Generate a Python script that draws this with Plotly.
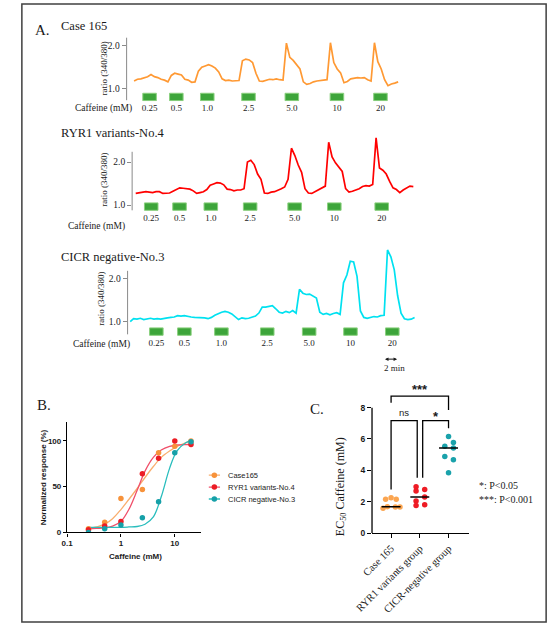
import numpy as np
import plotly.graph_objects as go

W, H = 550, 631
SERIF = "Liberation Serif"
SANS = "Liberation Sans"

# ---------------- data ----------------
# A: fura-2 ratio (340/380), one sample every 0.5 min
dt_min = 0.5
case165_ratio = [
    1.17, 1.21, 1.22, 1.25, 1.27, 1.32, 1.27, 1.25, 1.21, 1.19,
    1.15, 1.30, 1.35, 1.33, 1.31, 1.21, 1.19, 1.14, 1.15, 1.40,
    1.49, 1.52, 1.55, 1.52, 1.47, 1.38, 1.22, 1.18, 1.19, 1.17,
    1.18, 1.18, 1.64, 1.68, 1.66, 1.60, 1.35, 1.17, 1.16, 1.18,
    1.21, 1.20, 1.22, 1.20, 1.19, 2.05, 1.72, 1.65, 1.55, 1.45,
    1.15, 1.09, 1.11, 1.15, 1.17, 1.18, 1.19, 1.20, 2.06, 1.60,
    1.45, 1.36, 1.13, 1.16, 1.22, 1.24, 1.25, 1.24, 1.25, 1.20,
    1.17, 2.06, 1.62, 1.45, 1.20, 1.06, 1.10, 1.12, 1.15]
ryr1_ratio = [
    1.27, 1.28, 1.29, 1.31, 1.30, 1.29, 1.31, 1.31, 1.27, 1.27,
    1.28, 1.32, 1.37, 1.40, 1.39, 1.38, 1.37, 1.33, 1.27, 1.29,
    1.31, 1.36, 1.46, 1.49, 1.52, 1.51, 1.47, 1.37, 1.36, 1.33,
    1.35, 1.35, 1.38, 2.00, 2.04, 1.94, 1.72, 1.60, 1.28, 1.27,
    1.30, 1.31, 1.34, 1.38, 1.42, 1.60, 2.32, 2.15, 1.93, 1.76,
    1.38, 1.28, 1.27, 1.31, 1.36, 1.40, 1.44, 2.46, 2.12, 1.98,
    1.88, 1.78, 1.38, 1.30, 1.32, 1.35, 1.38, 1.43, 1.45, 1.44,
    1.48, 2.56, 1.86, 1.81, 1.72, 1.55, 1.40, 1.36, 1.29, 1.35,
    1.40, 1.44, 1.43]
cicr_ratio = [
    1.00, 1.07, 1.06, 1.08, 1.05, 1.07, 1.08, 1.06, 1.07, 1.06,
    1.08, 1.09, 1.10, 1.11, 1.14, 1.13, 1.14, 1.12, 1.11, 1.10,
    1.10, 1.09, 1.09, 1.07, 1.10, 1.15, 1.19, 1.22, 1.24, 1.22,
    1.18, 1.12, 1.05, 1.09, 1.07, 1.08, 1.10, 1.13, 1.20, 1.34,
    1.34, 1.36, 1.37, 1.30, 1.22, 1.20, 1.24, 1.21, 1.26, 1.20,
    1.75, 1.66, 1.63, 1.64, 1.60, 1.55, 1.22, 1.17, 1.19, 1.16,
    1.19, 1.21, 1.17, 1.90, 2.08, 2.40, 2.38, 2.05, 1.25, 1.10,
    1.08, 1.10, 1.12, 1.11, 1.14, 1.15, 2.66, 2.50, 2.20, 1.60,
    1.20, 1.07, 1.05, 1.06, 1.10]

caffeine_labels = ["0.25", "0.5", "1.0", "2.5", "5.0", "10", "20"]
stim_len_min = 2.0
case165_stim_start = [1.29, 5.24, 9.81, 15.9, 22.3, 28.96, 35.39]
ryr1_stim_start = [1.29, 5.47, 10.09, 15.9, 22.47, 28.33, 35.33]
cicr_stim_start = [2.86, 7.0, 12.47, 19.24, 25.43, 31.53, 37.71]

# B: dose-response
caffeine_mM = [0.25, 0.5, 1, 2.5, 5, 10, 20]
resp_case165 = [4, 11, 37, 47, 87, 94, 100]
resp_ryr1 = [3, 7, 12, 64, 81, 100, 96]
resp_cicr = [0, 4, 8, 16, 33.5, 87, 99]
fit_mM = [0.25, 0.35, 0.5, 0.7, 1, 1.4, 2, 2.8, 4, 5.6, 8, 11, 16, 20]
fit_case165 = [4, 6, 9, 15, 25, 36, 48, 60, 72, 82, 89, 94, 98, 100]
fit_ryr1 = [4, 4.5, 5, 7, 12, 25, 46, 67, 82, 90, 94, 95.5, 96, 96]
fit_cicr = [5.5, 5.5, 5.5, 5.5, 5.6, 6, 6.5, 9, 17, 39, 70, 89, 98, 100]
series_names = ["Case165", "RYR1 variants-No.4", "CICR negative-No.3"]

# C: EC50 per group
groups = ["Case 165", "RYR1 variants group", "CICR-negative group"]
ec50_case165 = [1.58, 1.68, 1.66, 1.66, 2.15, 2.25, 2.15]
ec50_ryr1 = [2.95, 2.78, 2.68, 2.30, 2.04, 1.80, 1.75]
ec50_cicr = [6.16, 5.78, 5.53, 5.42, 4.89, 4.68, 3.84]
jitter_case165 = [-0.28, -0.13, 0.15, 0.31, -0.19, 0.0, 0.18]
jitter_ryr1 = [-0.13, 0.17, -0.13, 0.17, -0.13, 0.17, -0.13]
jitter_cicr = [0.0, 0.17, -0.13, 0.17, -0.13, 0.17, 0.0]


def fx(px):
    return px / W


def fy(py):
    return 1 - py / H


fig = go.Figure()
layout = {}
shapes = []
annots = []


def text(x, y, s, size, family=SERIF, xanchor="center", yanchor="middle",
         angle=0, bold=False, xref="paper", yref="paper", yshift=0):
    annots.append(dict(x=x, y=y, xref=xref, yref=yref, text=s, showarrow=False,
                       xanchor=xanchor, yanchor=yanchor, textangle=angle, yshift=yshift,
                       font=dict(family=family, size=size, color="#1a1a1a",
                                 weight="bold" if bold else "normal")))


# ---------------- panel A ----------------
PX_PER_MIN = 7.0
RIGHT_PX = 415
panels = [
    dict(title="Case 165", ratio=case165_ratio, stim=case165_stim_start, color="#FF9933",
         axis_px=112.3, start_px=120, top_px=30, bottom_px=102, one_py=89, two_py=45.7,
         line_top=38, line_bottom=101, bar_top=94, bar_bottom=101.5,
         title_py=26, caff_py=109, caff_px=120, lab_px=89, lab_py=69),
    dict(title="RYR1 variants-No.4", ratio=ryr1_ratio, stim=ryr1_stim_start, color="#FF0000",
         axis_px=118, start_px=121.7, top_px=135, bottom_px=213, one_py=206.7, two_py=163.3,
         line_top=153, line_bottom=212, bar_top=204.5, bar_bottom=212,
         title_py=134, caff_py=228, caff_px=113, lab_px=88, lab_py=181),
    dict(title="CICR negative-No.3", ratio=cicr_ratio, stim=cicr_stim_start, color="#00E1F0",
         axis_px=113.3, start_px=116, top_px=245, bottom_px=339, one_py=324.3, two_py=280.7,
         line_top=273, line_bottom=337, bar_top=330.5, bar_bottom=338,
         title_py=259, caff_py=347, caff_px=118, lab_px=85, lab_py=301),
]

for k, p in enumerate(panels, start=1):
    s = "" if k == 1 else str(k)
    ppu = p["one_py"] - p["two_py"]
    lo = 1 - (p["bottom_px"] - p["one_py"]) / ppu
    hi = 1 + (p["one_py"] - p["top_px"]) / ppu
    fig.add_trace(go.Scatter(x0=0, dx=dt_min, y=p["ratio"], mode="lines",
                             line=dict(color=p["color"], width=1.7),
                             xaxis="x" + s, yaxis="y" + s))
    base = 1 - (p["bar_bottom"] - p["one_py"]) / ppu
    height = (p["bar_bottom"] - p["bar_top"]) / ppu
    centers = [t + stim_len_min / 2 for t in p["stim"]]
    fig.add_trace(go.Bar(x=centers, y=[height] * len(centers), base=base, width=stim_len_min,
                         marker=dict(color="#3DA53A", line=dict(color="#8AD07E", width=1)),
                         xaxis="x" + s, yaxis="y" + s))
    layout["xaxis" + s] = dict(
        domain=[fx(p["axis_px"]), fx(RIGHT_PX)], anchor="y" + s,
        range=[(p["axis_px"] - p["start_px"]) / PX_PER_MIN, (RIGHT_PX - p["start_px"]) / PX_PER_MIN],
        showline=False, showgrid=False, zeroline=False, ticks="",
        tickvals=centers, ticktext=caffeine_labels,
        tickfont=dict(family=SERIF, size=9, color="#1a1a1a"))
    layout["yaxis" + s] = dict(
        domain=[fy(p["bottom_px"]), fy(p["top_px"])], anchor="x" + s, range=[lo, hi],
        showline=False, showgrid=False, zeroline=False,
        ticks="outside", ticklen=4, tickwidth=1, tickcolor="#8a8a8a",
        tickvals=[1, 2], ticktext=["1.0", "2.0"],
        tickfont=dict(family=SERIF, size=9.5, color="#1a1a1a"))
    shapes.append(dict(type="line", xref="paper", yref="paper",
                       x0=fx(p["axis_px"]), x1=fx(p["axis_px"]),
                       y0=fy(p["line_bottom"]), y1=fy(p["line_top"]),
                       line=dict(color="#8a8a8a", width=1)))
    text(fx(42), fy(p["title_py"]), p["title"], 12.5, xanchor="left")
    text(fx(p["caff_px"]), fy(p["caff_py"]), "Caffeine (mM)", 9.5, xanchor="right")
    text(fx(p["lab_px"]), fy(p["lab_py"]), "ratio (340/380)", 9, angle=-90)

text(fx(15), fy(30), "A.", 15, xanchor="left")

# 2 min scale bar under the last trace
annots.append(dict(x=cicr_stim_start[-1] - 0.3 + 2, ax=cicr_stim_start[-1] - 0.3,
                   xref="x3", axref="x3", y=fy(362), yref="paper", ay=0, ayref="pixel",
                   text="", showarrow=True, arrowhead=2, arrowside="end+start",
                   arrowsize=0.7, arrowwidth=1, arrowcolor="#1a1a1a"))
text(fx(389), fy(371), "2 min", 9)

# ---------------- panel B ----------------
b_cols = ["#F7923A", "#EC1C24", "#16A0A8"]
b_fit_cols = ["#F9AE6E", "#F0506A", "#29BDBD"]
for fit, fc in zip([fit_case165, fit_ryr1, fit_cicr], b_fit_cols):
    fig.add_trace(go.Scatter(x=fit_mM, y=fit, mode="lines", line=dict(color=fc, width=1.3, shape="spline"),
                             xaxis="x4", yaxis="y4"))
for resp, c in zip([resp_case165, resp_ryr1, resp_cicr], b_cols):
    fig.add_trace(go.Scatter(x=caffeine_mM, y=resp, mode="markers", marker=dict(color=c, size=5.5),
                             xaxis="x4", yaxis="y4"))

bx0, bx1, by0, by1 = 50.7, 189.5, 536.7, 425
layout["xaxis4"] = dict(domain=[fx(bx0), fx(bx1)], anchor="y4", type="log",
                        range=[-1, -1 + (bx1 - bx0) / 55.7],
                        tickvals=[0.1, 1, 10], ticktext=["0.1", "1", "10"],
                        showline=True, linecolor="black", linewidth=1.3, showgrid=False, zeroline=False,
                        ticks="outside", ticklen=3, tickwidth=1.2, tickcolor="black",
                        tickfont=dict(family=SANS, size=8, color="#1a1a1a", weight="bold"))
layout["yaxis4"] = dict(domain=[fy(by0), fy(by1)], anchor="x4", range=[0, (by0 - by1) / 0.923],
                        tickvals=[0, 50, 100],
                        showline=True, linecolor="black", linewidth=1.3, showgrid=False, zeroline=False,
                        ticks="outside", ticklen=3, tickwidth=1.2, tickcolor="black",
                        tickfont=dict(family=SANS, size=8, color="#1a1a1a", weight="bold"))
text(fx(26), fy(481), "Normalized response (%)", 8, family=SANS, angle=-90, bold=True)
text(fx(121), fy(561), "Caffeine (mM)", 8, family=SANS, bold=True)
text(fx(18), fy(408), "B.", 15, xanchor="left")

# legend of B drawn on a hidden axis
for i, (name, c, fc) in enumerate(zip(series_names, b_cols, b_fit_cols)):
    fig.add_trace(go.Scatter(x=[0, 1], y=[i + 0.5] * 2, mode="lines", line=dict(color=fc, width=1.3),
                             xaxis="x6", yaxis="y6"))
    fig.add_trace(go.Scatter(x=[0.5], y=[i + 0.5], mode="markers", marker=dict(color=c, size=5.5),
                             xaxis="x6", yaxis="y6"))
    text(fx(215), i + 0.5, name, 7.5, family=SANS, xanchor="left", yref="y6")
layout["xaxis6"] = dict(domain=[fx(197), fx(209)], anchor="y6", range=[0, 1], visible=False)
layout["yaxis6"] = dict(domain=[fy(509), fy(473)], anchor="x6", range=[3, 0], visible=False)

# ---------------- panel C ----------------
c_cols = ["#FBA550", "#EE1C25", "#1AA2AB"]
for g, (vals, jit, c) in enumerate(zip([ec50_case165, ec50_ryr1, ec50_cicr],
                                       [jitter_case165, jitter_ryr1, jitter_cicr], c_cols)):
    fig.add_trace(go.Scatter(x=[g + j for j in jit], y=vals, mode="markers",
                             marker=dict(color=c, size=5.5), xaxis="x5", yaxis="y5"))
    med = float(np.median(vals))
    fig.add_trace(go.Scatter(x=[g - 0.33, g + 0.33], y=[med, med], mode="lines",
                             line=dict(color="black", width=1.5), xaxis="x5", yaxis="y5"))

brackets = [
    dict(x0=0, x1=2, top=8.73, left=8.31, right=7.85, label="***", tx=1, size=13, bold=True, shift=-3),
    dict(x0=0, x1=0.91, top=7.17, left=2.78, right=3.52, label="ns", tx=0.46, size=9.5, bold=False, shift=1),
    dict(x0=1.10, x1=2, top=7.17, left=3.52, right=6.68, label="*", tx=1.57, size=13, bold=True, shift=-5),
]
for b in brackets:
    fig.add_trace(go.Scatter(x=[b["x0"], b["x0"], b["x1"], b["x1"]],
                             y=[b["left"], b["top"], b["top"], b["right"]], mode="lines",
                             line=dict(color="black", width=1.3), xaxis="x5", yaxis="y5"))
    text(b["tx"], b["top"], b["label"], b["size"], family=SANS, yanchor="bottom",
         bold=b["bold"], xref="x5", yref="y5", yshift=b["shift"])

cx0, cx1, cy0, cstep, cppu = 366, 466.7, 537.3, 29.7, 15.8
c_first = 385.7
layout["xaxis5"] = dict(domain=[fx(cx0), fx(cx1)], anchor="y5",
                        range=[(cx0 - c_first) / cstep, (cx1 - c_first) / cstep],
                        tickvals=[0, 1, 2], ticktext=groups, tickangle=-45,
                        showline=True, linecolor="black", linewidth=1.3, showgrid=False, zeroline=False,
                        ticks="outside", ticklen=4, tickwidth=1.2, tickcolor="black",
                        tickfont=dict(family=SERIF, size=10.5, color="#1a1a1a"))
layout["yaxis5"] = dict(domain=[fy(cy0), fy(cy0 - 9.6 * cppu)], anchor="x5", range=[0, 9.6],
                        tickvals=[0, 2, 4, 6, 8], showline=False, showgrid=False, zeroline=False,
                        ticks="outside", ticklen=4, tickwidth=1.2, tickcolor="black",
                        tickfont=dict(family=SANS, size=8.5, color="#1a1a1a", weight="bold"))
shapes.append(dict(type="line", xref="paper", yref="paper", x0=fx(cx0), x1=fx(cx0),
                   y0=fy(cy0), y1=fy(cy0 - 8 * cppu), line=dict(color="black", width=1.3)))
text(fx(334), fy(491), "EC<sub>50</sub> Caffeine (mM)", 12, angle=-90)
text(fx(300), fy(412), "C.", 15, xanchor="left")
text(fx(475), fy(489), "*: P&lt;0.05", 10, xanchor="left")
text(fx(475), fy(503), "***: P&lt;0.001", 10, xanchor="left")

# outer frame
shapes.append(dict(type="rect", xref="paper", yref="paper", x0=fx(4), x1=fx(546),
                   y0=fy(627), y1=fy(4), line=dict(color="#404040", width=1.5)))

fig.update_layout(layout)
fig.update_layout(width=W, height=H, margin=dict(l=0, r=0, t=0, b=0),
                  paper_bgcolor="white", plot_bgcolor="white", showlegend=False,
                  font=dict(family=SERIF), shapes=shapes, annotations=annots)

fig.write_html("out.html", config={"displayModeBar": False},
               post_script="document.body.style.margin='0';document.body.style.overflow='hidden';")
